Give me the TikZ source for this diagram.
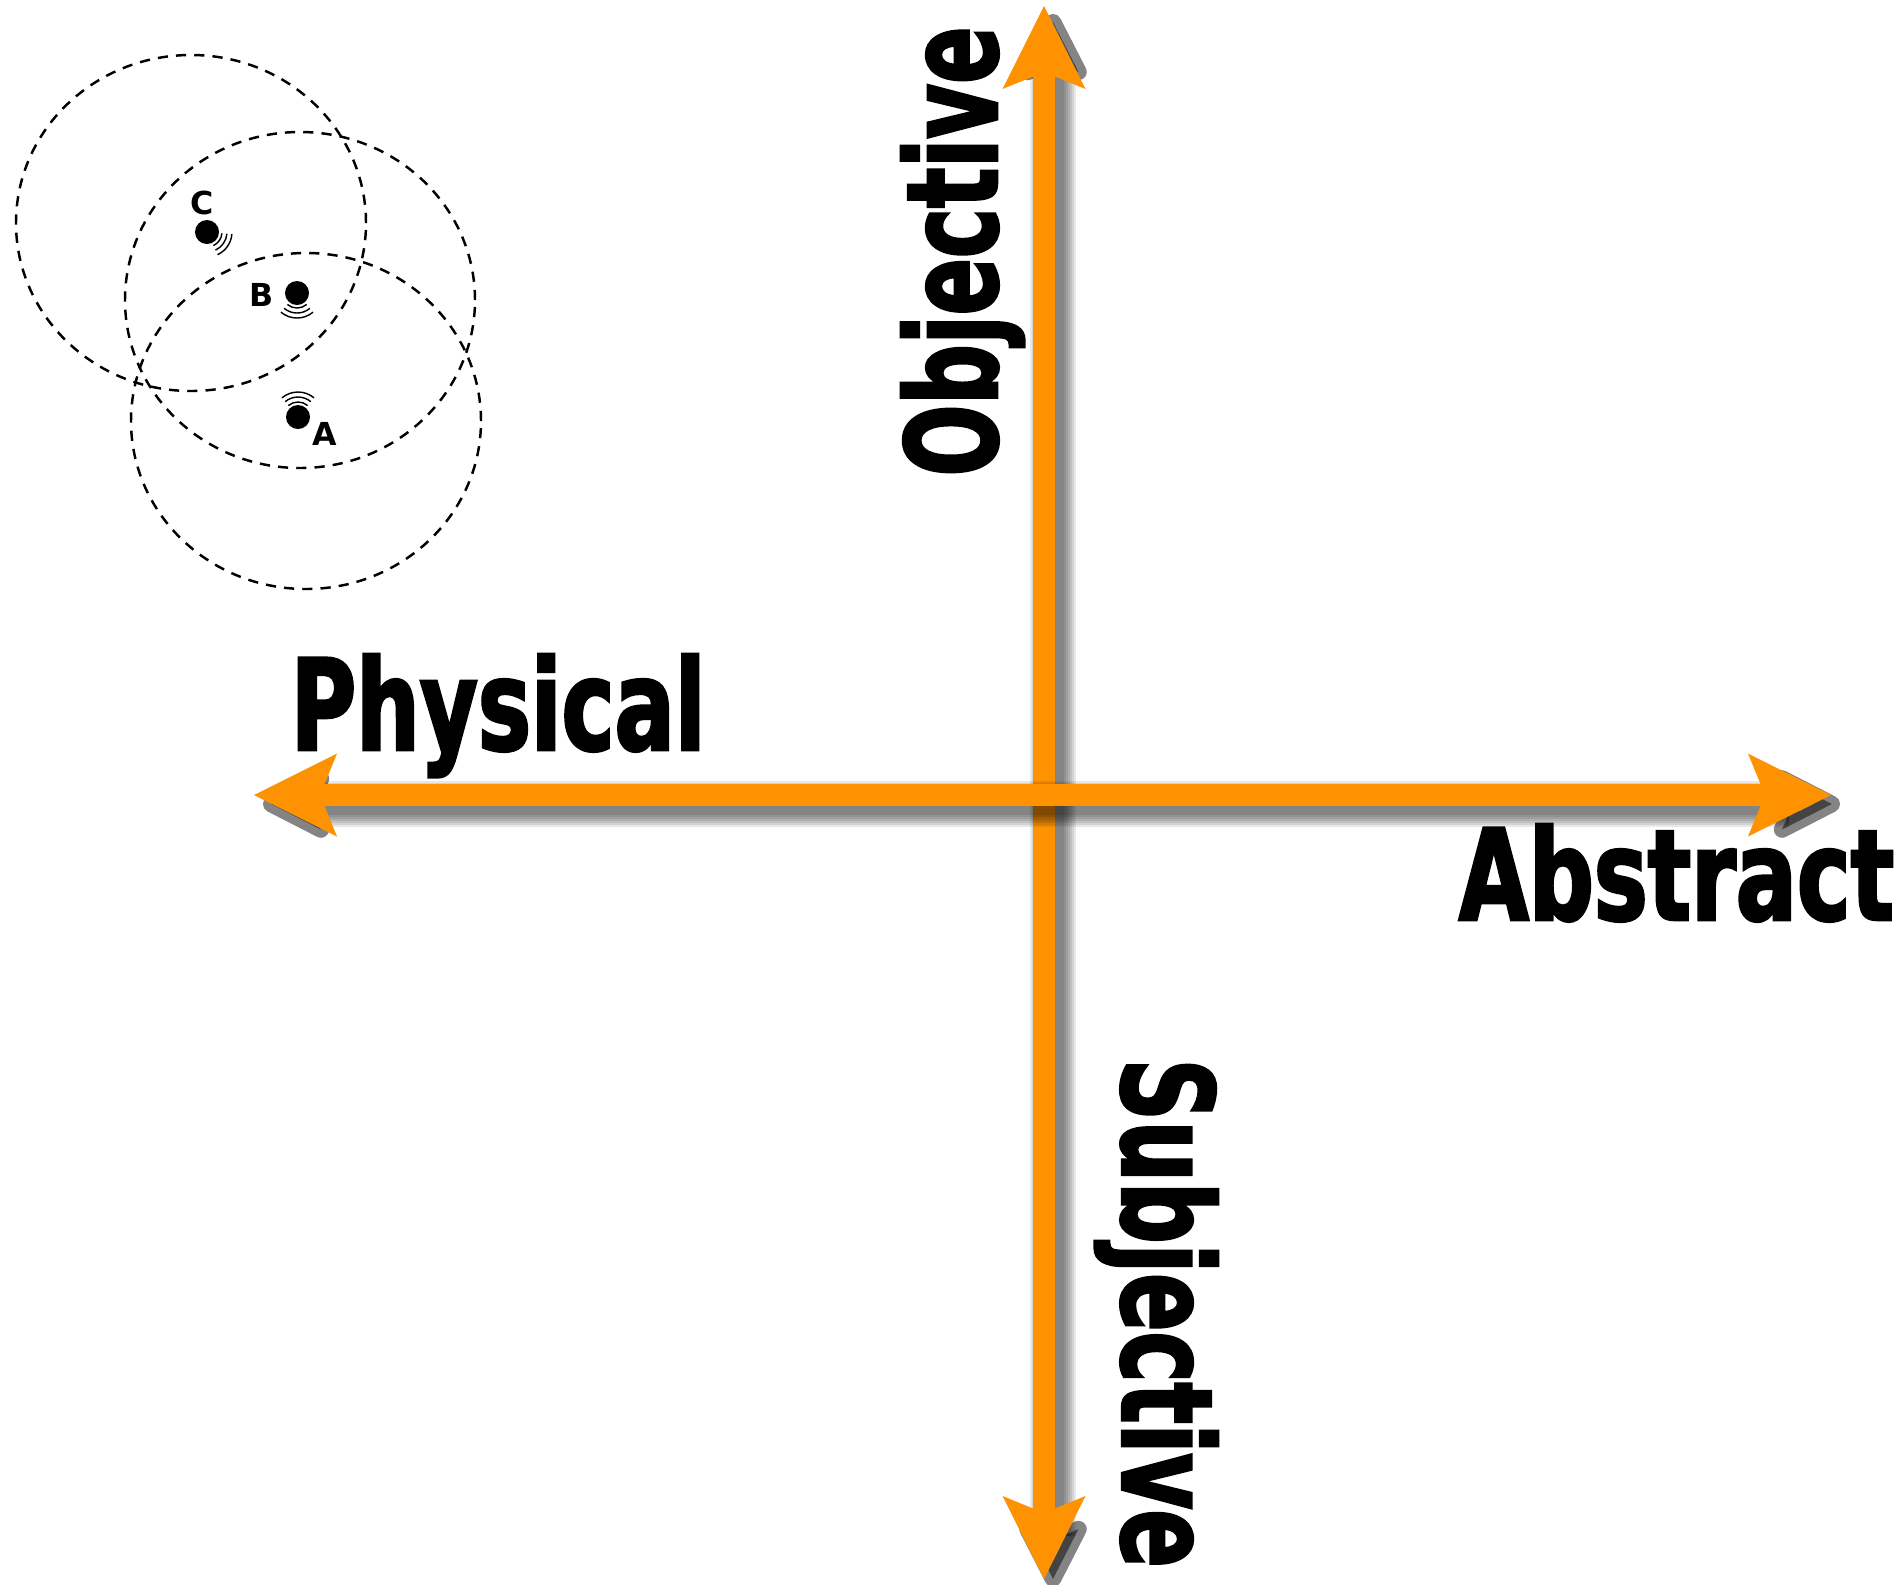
\documentclass[tikz,border=0pt]{standalone}
\usepackage{fontspec}
\usepackage{tikz}
\usetikzlibrary{arrows.meta}
\setmainfont{DejaVu Sans}
\newfontfamily\axisfont[FakeStretch=0.68,FakeBold=2]{DejaVu Sans Bold}
\definecolor{axisorange}{HTML}{FF9200}

\begin{document}
\begin{tikzpicture}[x=0.01cm,y=0.01cm,
    axis/.style={draw=axisorange,line width=6.26pt,
      {Stealth[length=0.83cm,width=0.83cm,inset=0.17cm,line width=0pt]}-{Stealth[length=0.83cm,width=0.83cm,inset=0.17cm,line width=0pt]}},
    shade/.style={draw=black,draw opacity=0.09,fill opacity=0.09,line width=#1,
      {Stealth[length=0.83cm,width=0.83cm,inset=0.17cm,round]}-{Stealth[length=0.83cm,width=0.83cm,inset=0.17cm,round]}},
    axislabel/.style={inner sep=0pt,font=\axisfont\fontsize{36}{40}\selectfont},
    ring/.style={draw,line width=0.7pt,dash pattern=on 2.9pt off 2.3pt},
    dot/.style={circle,fill,inner sep=0pt,minimum size=0.24cm},
    tag/.style={inner sep=0pt,font=\bfseries\fontsize{9}{10}\selectfont},
    wave/.style={line width=0.4pt}]
  \useasboundingbox (0,0) rectangle (1904,-1584);

  \coordinate (top) at (1044,-6);
  \coordinate (bottom) at (1044,-1579);
  \coordinate (left) at (254,-795);
  \coordinate (right) at (1831,-795);

  \foreach \s [evaluate=\s as \lw using 0.2845*(22+2*\s)] in {0,2,...,12}
    \draw[shade=\lw pt] ([shift={(9,-8)}]bottom) -- ([shift={(9,-8)}]top);
  \draw[axis] (bottom) -- (top);
  \foreach \s [evaluate=\s as \lw using 0.2845*(22+2*\s)] in {0,2,...,12}
    \draw[shade=\lw pt] ([shift={(9,-9)}]left) -- ([shift={(9,-9)}]right);
  \draw[axis] (left) -- (right);

  \node[axislabel,anchor=base west,xscale=1.037] (physical) at (290,-750) {Physical};
  \node[axislabel,anchor=base west,xscale=1.053] (abstract) at (1458,-920) {Abstract};
  \node[axislabel,anchor=base west,rotate=90,xscale=0.98] (objective) at (997,-477) {Objective};
  \node[axislabel,anchor=base west,rotate=-90] (subjective) at (1122,-1058) {Subjective};

  \draw[ring] (191,-223) ellipse [x radius=175,y radius=168];
  \draw[ring] (300,-300) ellipse [x radius=175,y radius=168];
  \draw[ring] (306,-421) ellipse [x radius=175,y radius=168];

  \node[dot] (dotC) at (207,-232) {};
  \node[dot] (dotB) at (297,-293) {};
  \node[dot] (dotA) at (298,-417) {};
  \node[tag] (tagC) at (202,-203) {C};
  \node[tag] (tagB) at (262,-295) {B};
  \node[tag] (tagA) at (325,-434) {A};

  \foreach \r in {15,20,25} {
    \draw[wave] (dotC.center) ++(-65:\r) arc[start angle=-65,end angle=-5,radius=\r];
    \draw[wave] (dotB.center) ++(-130:\r) arc[start angle=-130,end angle=-50,radius=\r];
    \draw[wave] (dotA.center) ++(50:\r) arc[start angle=50,end angle=130,radius=\r];
  }
\end{tikzpicture}
\end{document}
